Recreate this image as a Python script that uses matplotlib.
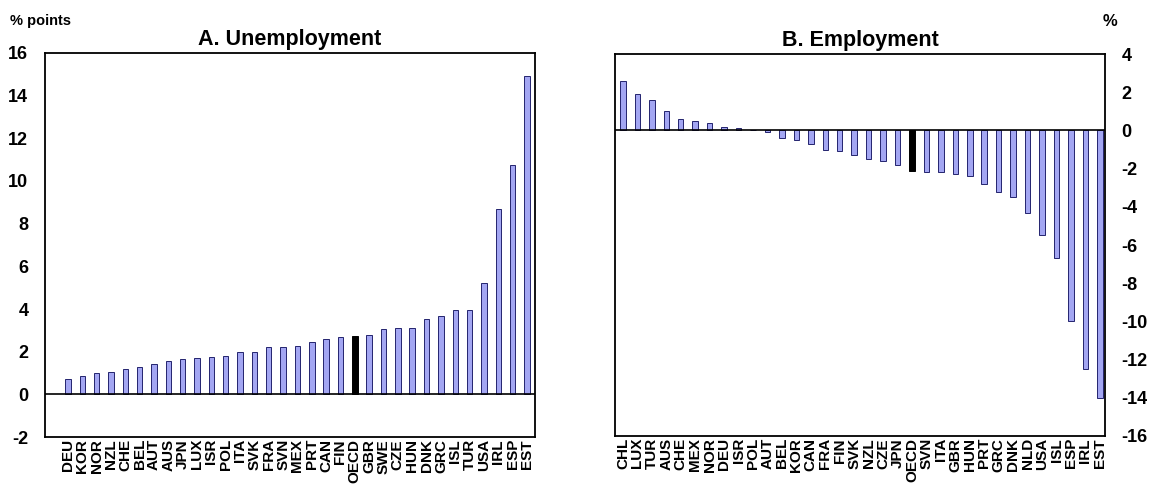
import matplotlib
matplotlib.use("Agg")
import matplotlib.pyplot as plt
import numpy as np

plt.rcParams['font.family'] = ['Liberation Sans', 'DejaVu Sans']
plt.rcParams['font.weight'] = 'bold'
plt.rcParams['axes.unicode_minus'] = False

# Panel A: change in unemployment rate (% points)
unemp_countries = ["DEU", "KOR", "NOR", "NZL", "CHE", "BEL", "AUT", "AUS", "JPN", "LUX",
                   "ISR", "POL", "ITA", "SVK", "FRA", "SVN", "MEX", "PRT", "CAN", "FIN",
                   "OECD", "GBR", "SWE", "CZE", "HUN", "DNK", "GRC", "ISL", "TUR", "USA",
                   "IRL", "ESP", "EST"]
unemp_values = [0.7, 0.85, 1.0, 1.05, 1.2, 1.3, 1.4, 1.55, 1.65, 1.7,
                1.75, 1.8, 2.0, 2.0, 2.2, 2.2, 2.25, 2.45, 2.6, 2.7,
                2.75, 2.8, 3.05, 3.1, 3.1, 3.55, 3.65, 3.95, 3.95, 5.2,
                8.7, 10.75, 14.9]

# Panel B: change in employment (%)
emp_countries = ["CHL", "LUX", "TUR", "AUS", "CHE", "MEX", "NOR", "DEU", "ISR", "POL",
                 "AUT", "BEL", "KOR", "CAN", "FRA", "FIN", "SVK", "NZL", "CZE", "JPN",
                 "OECD", "SVN", "ITA", "GBR", "HUN", "PRT", "GRC", "DNK", "NLD", "USA",
                 "ISL", "ESP", "IRL", "EST"]
emp_values = [2.6, 1.9, 1.6, 1.0, 0.6, 0.5, 0.4, 0.2, 0.1, 0.0,
              -0.1, -0.4, -0.5, -0.7, -1.0, -1.1, -1.3, -1.5, -1.6, -1.8,
              -2.1, -2.2, -2.2, -2.3, -2.4, -2.8, -3.2, -3.5, -4.3, -5.5,
              -6.7, -10.0, -12.5, -14.0]

FACE = "#a3a6f2"
EDGE = "#23236e"

fig = plt.figure(figsize=(11.57, 4.84), dpi=100)
axA = fig.add_axes([0.0389, 0.0971, 0.4235, 0.7934])
axB = fig.add_axes([0.5315, 0.0992, 0.4235, 0.7892])


def draw(ax, cats, vals):
    x = np.arange(len(cats))
    colors = ["black" if c == "OECD" else FACE for c in cats]
    edges = ["black" if c == "OECD" else EDGE for c in cats]
    ax.bar(x, vals, width=0.38, color=colors, edgecolor=edges, linewidth=0.7, zorder=2)
    ax.axhline(0, color="black", linewidth=1.2, zorder=3)
    ax.set_xticks(x)
    ax.set_xticklabels(cats, rotation=90, fontsize=11, fontweight="bold")
    ax.tick_params(axis="x", length=0, pad=1.5)
    ax.tick_params(axis="y", length=0, labelsize=13)
    for s in ax.spines.values():
        s.set_linewidth(1.3)


draw(axA, unemp_countries, unemp_values)
axA.set_ylim(-2, 16)
axA.set_yticks(np.arange(-2, 17, 2))
axA.set_xlim(-1.6, len(unemp_countries) - 1 + 0.56)
axA.tick_params(axis="y", pad=12)
for lab in axA.get_yticklabels():
    lab.set_fontweight("bold")
axA.set_title("A. Unemployment", fontsize=15.5, fontweight="bold", pad=6)
fig.text(0.009, 0.957, "% points", fontsize=10.5, fontweight="bold", ha="left", va="center")

draw(axB, emp_countries, emp_values)
axB.set_ylim(-16, 4)
axB.set_yticks(np.arange(-16, 5, 2))
axB.set_xlim(-0.55, len(emp_countries) - 1 + 0.35)
axB.yaxis.tick_right()
axB.tick_params(axis="y", pad=12)
for lab in axB.get_yticklabels():
    lab.set_fontweight("bold")
axB.set_title("B. Employment", fontsize=15.5, fontweight="bold", pad=6)
fig.text(0.953, 0.955, "%", fontsize=12, fontweight="bold", ha="left", va="center")

fig.savefig("out.png", dpi=100)
